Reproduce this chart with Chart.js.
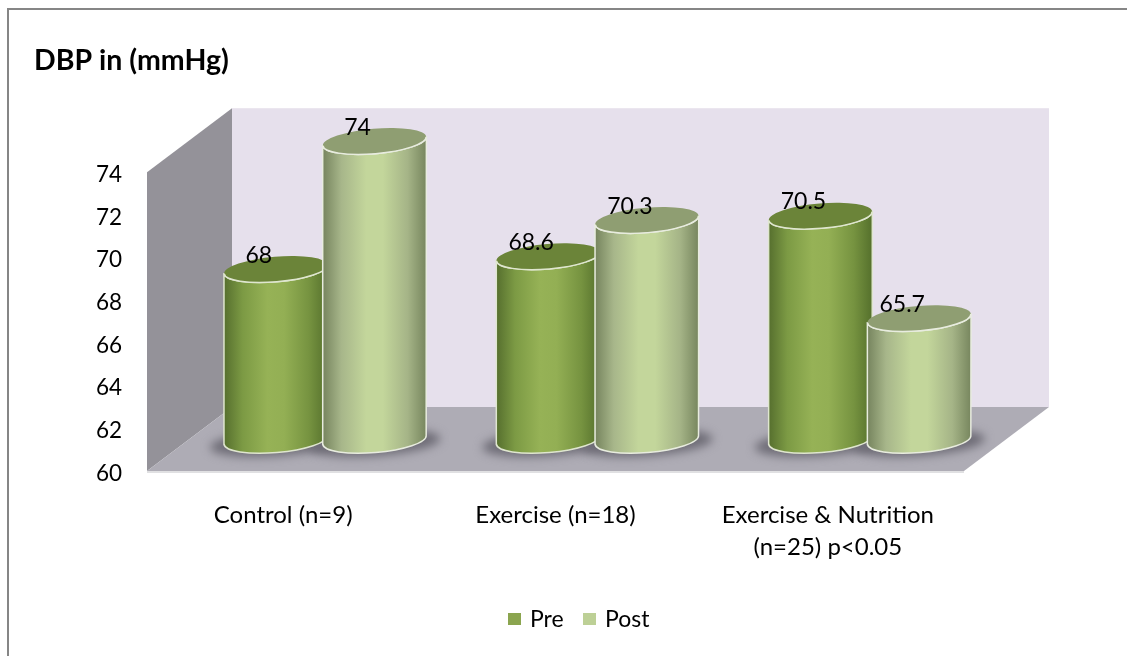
<!DOCTYPE html>
<html>
<head>
<meta charset="utf-8">
<style>
  html, body { margin: 0; padding: 0; background: #fff; }
  #wrap { width: 1127px; height: 656px; }
</style>
<script src="https://cdn.jsdelivr.net/npm/chart.js@4"></script>
</head>
<body>
<div id="wrap"><canvas id="myChart" width="1127" height="656"></canvas></div>
<script>
var categories = ["Control (n=9)", "Exercise (n=18)", ["Exercise & Nutrition", "(n=25) p<0.05"]];
var preValues = [68, 68.6, 70.5];
var postValues = [74, 70.3, 65.7];
var preLabels = ["68", "68.6", "70.5"];
var postLabels = ["74", "70.3", "65.7"];
var seriesNames = ["Pre", "Post"];
var seriesColors = ["#8ba54f", "#bdd096"];
var fontName = "Lato, Carlito, sans-serif";
var textSize = 23;

// how far the bars and the back wall sit behind the axis plane
var barDepth = { x: 42, y: -31 };
var wallDepth = { x: 85, y: -64 };

var pre3d = { top: "#6b8439", line: "#dfe6cf", stops: ["#566f2e", "#7c9a44", "#96b256", "#93af54", "#769340", "#55702c"] };
var post3d = { top: "#8f9e72", line: "#e8ecdf", stops: ["#76845e", "#a7b68a", "#c3d69b", "#c3d69b", "#a5b487", "#77865e"] };

function drawRoom(chart) {
  var c = chart.ctx, a = chart.chartArea;
  c.save();
  // frame round the whole picture
  c.strokeStyle = "#868686";
  c.lineWidth = 2;
  c.beginPath();
  c.moveTo(8, 656);
  c.lineTo(8, 9);
  c.lineTo(1127, 9);
  c.stroke();
  // back wall
  c.fillStyle = "#e6e0ec";
  c.fillRect(a.left + wallDepth.x, a.top + wallDepth.y, a.right - a.left, a.bottom - a.top);
  // side wall
  c.fillStyle = "#949299";
  c.beginPath();
  c.moveTo(a.left, a.top);
  c.lineTo(a.left + wallDepth.x, a.top + wallDepth.y);
  c.lineTo(a.left + wallDepth.x, a.bottom + wallDepth.y);
  c.lineTo(a.left, a.bottom);
  c.closePath();
  c.fill();
  // floor
  c.fillStyle = "#aeacb5";
  c.beginPath();
  c.moveTo(a.left, a.bottom);
  c.lineTo(a.left + wallDepth.x, a.bottom + wallDepth.y);
  c.lineTo(a.right + wallDepth.x, a.bottom + wallDepth.y);
  c.lineTo(a.right, a.bottom);
  c.closePath();
  c.fill();
  c.strokeStyle = "#d6d6d8";
  c.lineWidth = 1.5;
  c.beginPath();
  c.moveTo(a.left, a.bottom + 1);
  c.lineTo(a.right, a.bottom + 1);
  c.stroke();
  c.restore();
}

function drawShadows(chart) {
  var c = chart.ctx;
  var baseY = chart.scales.y.getPixelForValue(chart.scales.y.min) + barDepth.y;
  c.save();
  c.filter = "blur(5px)";
  c.fillStyle = "#6e6c76";
  chart.data.datasets.forEach(function (ds, i) {
    chart.getDatasetMeta(i).data.forEach(function (bar) {
      c.beginPath();
      c.ellipse(bar.x + barDepth.x, baseY + 3, bar.width / 2 + 14, 13, -0.07, 0, Math.PI * 2);
      c.fill();
    });
  });
  c.restore();
}

function drawCylinder(chart, bar, look) {
  var c = chart.ctx;
  var cx = bar.x + barDepth.x;
  var topY = bar.y + barDepth.y;
  var baseY = chart.scales.y.getPixelForValue(chart.scales.y.min) + barDepth.y;
  var rx = bar.width / 2;
  var ry = 12.5;
  var tilt = -0.085;
  var endY = Math.sin(tilt) * rx;

  var grad = c.createLinearGradient(cx - rx, 0, cx + rx, 0);
  var at = [0, 0.18, 0.42, 0.58, 0.82, 1];
  look.stops.forEach(function (col, k) { grad.addColorStop(at[k], col); });

  c.save();
  c.beginPath();
  c.moveTo(cx - rx, topY - endY);
  c.lineTo(cx - rx, baseY - endY);
  c.ellipse(cx, baseY, rx, ry, tilt, Math.PI, 0, true);
  c.lineTo(cx + rx, topY + endY);
  c.ellipse(cx, topY, rx, ry, tilt, 0, Math.PI, false);
  c.closePath();
  c.fillStyle = grad;
  c.fill();
  c.strokeStyle = look.line;
  c.lineWidth = 1.5;
  c.stroke();

  c.beginPath();
  c.ellipse(cx, topY, rx, ry, tilt, 0, Math.PI * 2);
  c.fillStyle = look.top;
  c.fill();
  // only the near rim of the top catches the light
  c.beginPath();
  c.ellipse(cx, topY, rx, ry, tilt, 0, Math.PI, false);
  c.stroke();
  c.restore();
}

function drawLegend(c) {
  var boxX = [508, 583];
  var textX = [530, 605];
  c.save();
  c.font = "23px " + fontName;
  c.textBaseline = "middle";
  c.textAlign = "left";
  seriesNames.forEach(function (name, i) {
    c.fillStyle = seriesColors[i];
    c.fillRect(boxX[i], 613, 13, 12);
    c.fillStyle = "#000";
    c.fillText(name, textX[i], 620);
  });
  c.restore();
}

var cylinders = {
  id: "cylinders",
  beforeDatasetsDraw: function (chart) {
    drawRoom(chart);
    drawShadows(chart);
  },
  // the flat bars are only there for their geometry
  beforeDatasetDraw: function () { return false; },
  afterDatasetsDraw: function (chart) {
    var pre = chart.getDatasetMeta(0).data;
    var post = chart.getDatasetMeta(1).data;
    var c = chart.ctx;
    pre.forEach(function (bar, i) {
      drawCylinder(chart, bar, pre3d);
      drawCylinder(chart, post[i], post3d);
    });
    c.save();
    c.fillStyle = "#000";
    c.font = textSize + "px " + fontName;
    c.textAlign = "center";
    c.textBaseline = "middle";
    pre.forEach(function (bar, i) {
      c.fillText(preLabels[i], bar.x + barDepth.x - 17, bar.y + barDepth.y - 14);
      c.fillText(postLabels[i], post[i].x + barDepth.x - 17, post[i].y + barDepth.y - 14);
    });
    c.restore();
    drawLegend(c);
  }
};

var ctx = document.getElementById("myChart").getContext("2d");
var myChart = new Chart(ctx, {
  type: "bar",
  data: {
    labels: categories,
    datasets: [
      { label: seriesNames[0], data: preValues, backgroundColor: seriesColors[0], borderWidth: 0 },
      { label: seriesNames[1], data: postValues, backgroundColor: seriesColors[1], borderWidth: 0 }
    ]
  },
  options: {
    responsive: false,
    animation: false,
    categoryPercentage: 0.725,
    barPercentage: 1.05,
    layout: { padding: { left: 34, right: 163, top: 0, bottom: 0 } },
    plugins: {
      tooltip: { enabled: false },
      legend: { display: false },
      title: {
        display: true,
        text: "DBP in (mmHg)",
        align: "start",
        color: "#000",
        font: { family: fontName, size: 28.5, weight: "bold" },
        padding: { top: 44, bottom: 94 }
      }
    },
    scales: {
      x: {
        afterFit: function (s) { s.height = 185; },
        grid: { display: false, drawTicks: false },
        border: { display: false },
        ticks: { color: "#000", font: { family: fontName, size: 24, lineHeight: 1.33 }, padding: 28, maxRotation: 0, autoSkip: false }
      },
      y: {
        min: 60,
        max: 74,
        afterFit: function (s) { s.width = 113; },
        grid: { display: false, drawTicks: false },
        border: { display: false },
        ticks: { stepSize: 2, color: "#000", font: { family: fontName, size: 22.5 }, padding: 25, labelOffset: 2.5 }
      }
    }
  },
  plugins: [cylinders]
});
</script>
</body>
</html>
